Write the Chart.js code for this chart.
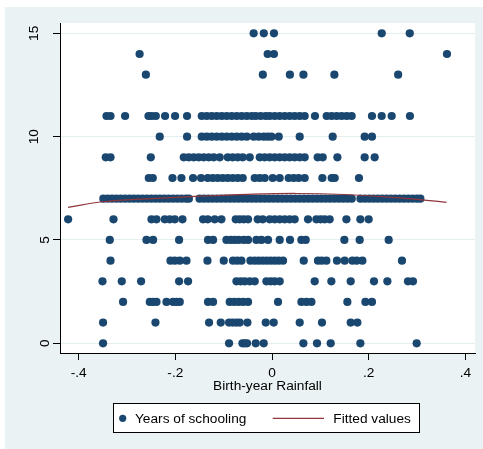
<!DOCTYPE html>
<html><head><meta charset="utf-8">
<script src="https://cdn.jsdelivr.net/npm/chart.js@4.4.1/dist/chart.umd.min.js"></script>
<style>html,body{margin:0;padding:0;background:#fff;}</style>
</head><body>
<canvas id="c" width="483" height="449"></canvas>
<script>
// ---- data ----
const xTicks = [-0.4, -0.2, 0, 0.2, 0.4];
const xTickLabels = ['-.4', '-.2', '0', '.2', '.4'];
const yTicks = [0, 5, 10, 15];
const yTickLabels = ['0', '5', '10', '15'];

// birth-year rainfall of individuals, grouped by years of schooling
const rain_15 = [-0.038, -0.017, 0.004, 0.227, 0.285];
const rain_14 = [-0.274, -0.009, 0.004, 0.362];
const rain_13 = [-0.261, -0.019, 0.037, 0.065, 0.129, 0.261];
const rain_11 = [-0.3425, -0.3342, -0.304, -0.2556, -0.2488, -0.2405, -0.2213, -0.2006, -0.1758,
  -0.1454, -0.1351, -0.1247, -0.1144, -0.104, -0.0937, -0.0834, -0.073, -0.0627, -0.0523, -0.042,
  -0.0337, -0.0234, -0.013, -0.0048, 0.0056, 0.0159, 0.0263, 0.0366, 0.0469, 0.0573, 0.0676, 0.0889,
  0.1131, 0.1234, 0.1338, 0.1441, 0.1545, 0.1648, 0.2068, 0.2269, 0.2476, 0.2854];
const rain_10 = [-0.2323, -0.1758, -0.1454, -0.1351, -0.1247, -0.1144, -0.104, -0.0937, -0.0834,
  -0.073, -0.0627, -0.0523, -0.0378, -0.0275, -0.0172, -0.0089, -0.0012, 0.0139, 0.0573, 0.1255,
  0.1917, 0.2068];
const rain_9 = [-0.344, -0.3342, -0.2508, -0.1826, -0.1723, -0.1619, -0.1516, -0.1413, -0.1309,
  -0.1206, -0.1082, -0.0916, -0.0813, -0.0709, -0.0606, -0.0461, -0.0254, -0.0151, -0.0048, 0.0056,
  0.0159, 0.0263, 0.0366, 0.0469, 0.0573, 0.0676, 0.0945, 0.1049, 0.1353, 0.1917, 0.2124];
const rain_8 = [-0.255, -0.2467, -0.206, -0.1874, -0.1634, -0.1468, -0.133, -0.1226, -0.1123, -0.102,
  -0.0916, -0.0813, -0.0709, -0.0606, -0.0358, -0.0254, -0.0151, 0.0014, 0.0159, 0.0345, 0.0449,
  0.0552, 0.0676, 0.1042, 0.1235, 0.1297, 0.1799];
const rain_7 = [-0.349, -0.34, -0.331, -0.322, -0.313, -0.304, -0.295, -0.286, -0.277, -0.268, -0.259,
  -0.25, -0.241, -0.232, -0.223, -0.214, -0.205, -0.196, -0.187, -0.178, -0.172, -0.15, -0.141, -0.132,
  -0.123, -0.114, -0.105, -0.096, -0.087, -0.078, -0.069, -0.06, -0.051, -0.042, -0.033, -0.024,
  -0.015, -0.006, 0.003, 0.012, 0.021, 0.03, 0.039, 0.048, 0.057, 0.066, 0.075, 0.084, 0.093, 0.102,
  0.111, 0.12, 0.129, 0.138, 0.147, 0.156, 0.165, 0.183, 0.192, 0.201, 0.21, 0.219, 0.228, 0.237,
  0.246, 0.255, 0.264, 0.273, 0.282, 0.291, 0.3, 0.307];
const rain_6 = [-0.4219, -0.328, -0.2494, -0.2391, -0.2219, -0.2116, -0.2012, -0.1853, -0.1427, -0.133,
  -0.1186, -0.1047, -0.0751, -0.0668, -0.0585, -0.0496, -0.0296, -0.0192, -0.0048, 0.0056, 0.0159,
  0.0263, 0.0366, 0.0469, 0.0745, 0.0918, 0.1007, 0.109, 0.1193, 0.1539, 0.1828, 0.2];
const rain_5 = [-0.3357, -0.2598, -0.2461, -0.1923, -0.1324, -0.122, -0.0943, -0.0854, -0.0772, -0.0689,
  -0.0585, -0.0496, -0.0323, -0.0219, -0.0083, 0.0159, 0.0372, 0.0608, 0.0697, 0.1497, 0.1814, 0.2414];
const rain_4 = [-0.3342, -0.2101, -0.2012, -0.1909, -0.177, -0.1336, -0.0999, -0.0807, -0.072, -0.0633,
  -0.0447, -0.0358, -0.0275, -0.0192, -0.011, -0.0027, 0.0056, 0.0139, 0.0228, 0.0656, 0.0951, 0.1028,
  0.1125, 0.1344, 0.1504, 0.1663, 0.1752, 0.187, 0.2689];
const rain_3 = [-0.3508, -0.3109, -0.2709, -0.1923, -0.1737, -0.0736, -0.0647, -0.0565, -0.0461, -0.0358,
  -0.0116, -0.0027, 0.0056, 0.0159, 0.0883, 0.1228, 0.1628, 0.211, 0.2387, 0.2813, 0.2916];
const rain_2 = [-0.3082, -0.2529, -0.2461, -0.2391, -0.2184, -0.2048, -0.1977, -0.1909, -0.1324, -0.122,
  -0.0875, -0.0782, -0.0689, -0.0596, -0.0496, 0.0124, 0.0608, 0.0711, 0.0815, 0.1559, 0.1932, 0.2068];
const rain_1 = [-0.3496, -0.2412, -0.1303, -0.1061, -0.0889, -0.0813, -0.0736, -0.0668, -0.0509, -0.013,
  0.0035, 0.0573, 0.1034, 0.1628, 0.1766];
const rain_0 = [-0.3496, -0.0889, -0.0612, -0.0565, -0.0517, -0.0337, -0.0172, 0.0649, 0.0931, 0.1214,
  0.1828, 0.2993];

// fitted values (quadratic fit)
const fitX = [-0.422, -0.35, -0.25, -0.15, -0.05, 0.05, 0.15, 0.25, 0.361];
const fitY = [6.58, 6.85, 7.0, 7.12, 7.21, 7.25, 7.2, 7.06, 6.82];

const seriesNames = ['Years of schooling', 'Fitted values'];

// ---- build ----
const groups = [[0, rain_0], [1, rain_1], [2, rain_2], [3, rain_3], [4, rain_4], [5, rain_5], [6, rain_6],
  [7, rain_7], [8, rain_8], [9, rain_9], [10, rain_10], [11, rain_11], [13, rain_13], [14, rain_14], [15, rain_15]];
const pts = [];
groups.forEach(([yrs, arr]) => arr.forEach(r => pts.push({x: r, y: yrs})));
const fitPts = fitX.map((x, i) => ({x: x, y: fitY[i]}));

const FONT = "'Liberation Sans', Arial, sans-serif";
const FS = 13.7;
const NAVY = '#1a476f';
const MAROON = '#90353b';
const BG = '#eaf2f3';

const bgPlugin = {
  id: 'bg',
  beforeDraw(chart) {
    const {ctx, chartArea: a} = chart;
    ctx.save();
    ctx.fillStyle = '#ffffff';
    ctx.fillRect(0, 0, chart.width, chart.height);
    ctx.fillStyle = BG;
    ctx.fillRect(5, 7, chart.width - 5, chart.height - 7);
    ctx.fillStyle = '#ffffff';
    ctx.fillRect(a.left, a.top, a.right - a.left, a.bottom - a.top);
    ctx.restore();
  },
  afterDraw(chart) {
    const {ctx} = chart;
    const ys = chart.scales.y;
    ctx.save();
    // rotated y tick labels
    ctx.fillStyle = '#000';
    ctx.font = FS + 'px ' + FONT;
    ctx.textAlign = 'center';
    ctx.textBaseline = 'alphabetic';
    yTicks.forEach((v, i) => {
      const t = yTickLabels[i];
      const py = ys.getPixelForValue(v);
      const bx = 49 - (t.length - 1) * 11;
      ctx.save();
      ctx.translate(bx, py);
      ctx.rotate(-Math.PI / 2);
      ctx.fillText(t, 0, 0);
      ctx.restore();
    });
    // legend box
    ctx.fillStyle = '#ffffff';
    ctx.fillRect(113.5, 403.5, 306, 29);
    ctx.strokeStyle = '#000';
    ctx.lineWidth = 1;
    ctx.strokeRect(113.5, 403.5, 306, 29);
    ctx.fillStyle = NAVY;
    ctx.beginPath();
    ctx.arc(122.7, 418.3, 3.6, 0, Math.PI * 2);
    ctx.fill();
    ctx.strokeStyle = MAROON;
    ctx.lineWidth = 1.2;
    ctx.beginPath();
    ctx.moveTo(272.7, 418.3);
    ctx.lineTo(324, 418.3);
    ctx.stroke();
    ctx.fillStyle = '#000';
    ctx.textAlign = 'left';
    ctx.textBaseline = 'middle';
    ctx.fillText(seriesNames[0], 135, 419);
    ctx.fillText(seriesNames[1], 333.3, 419);
    ctx.restore();
  }
};

new Chart(document.getElementById('c'), {
  type: 'scatter',
  data: {
    datasets: [
      {type: 'line', label: seriesNames[1], data: fitPts, borderColor: MAROON, borderWidth: 1.2,
       pointRadius: 0, tension: 0.4, fill: false, order: 0},
      {label: seriesNames[0], data: pts, backgroundColor: NAVY, borderWidth: 0,
       pointRadius: 4.1, pointHoverRadius: 4.1, order: 1}
    ]
  },
  options: {
    responsive: false,
    animation: false,
    devicePixelRatio: 1,
    layout: {padding: {left: 0, top: 23, right: 8, bottom: 51}},
    plugins: {legend: {display: false}, tooltip: {enabled: false}},
    scales: {
      x: {
        type: 'linear', min: -0.4387, max: 0.42,
        afterBuildTicks: s => { s.ticks = xTicks.map(v => ({value: v})); },
        afterFit: s => { s.height = 45; s.paddingLeft = 0; s.paddingRight = 0; },
        ticks: {callback: (v, i) => xTickLabels[i], color: '#000', font: {family: FONT, size: FS},
                padding: 5, maxRotation: 0, minRotation: 0, autoSkip: false},
        grid: {drawOnChartArea: false, drawTicks: true, tickLength: 7, tickColor: '#000', tickWidth: 1},
        border: {display: true, color: '#000', width: 1},
        title: {display: true, text: 'Birth-year Rainfall', color: '#000', font: {family: FONT, size: FS},
                padding: {top: 0, bottom: 4}}
      },
      y: {
        type: 'linear', min: -0.47, max: 15.5,
        afterBuildTicks: s => { s.ticks = yTicks.map(v => ({value: v})); },
        afterFit: s => { s.width = 60; },
        ticks: {display: false},
        grid: {color: '#e4edef', lineWidth: 1, drawTicks: true, tickLength: 7, tickColor: '#000', tickWidth: 1},
        border: {display: true, color: '#000', width: 1}
      }
    }
  },
  plugins: [bgPlugin]
});
</script>
</body></html>
